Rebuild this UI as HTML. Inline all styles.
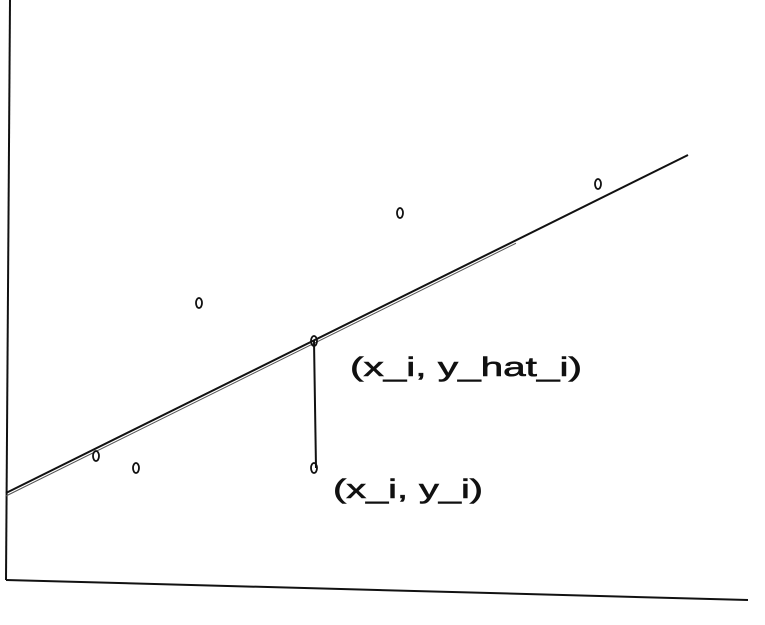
<!DOCTYPE html>
<html><head><meta charset="utf-8"><style>
html,body{margin:0;padding:0;background:#fff;}
svg{display:block;}
text{font-family:"Liberation Sans",sans-serif;font-size:27px;fill:#111;stroke:#111;stroke-width:0.6;}
</style></head><body>
<svg id="chart" width="765" height="625" viewBox="0 0 765 625" xmlns="http://www.w3.org/2000/svg">
<line x1="10" y1="0" x2="6" y2="580" stroke="#111" stroke-width="2"/>
<line x1="6" y1="580" x2="748" y2="600" stroke="#111" stroke-width="2"/>
<g id="marks"></g>
<text x="350" y="376" textLength="232" lengthAdjust="spacingAndGlyphs">(x_i, y_hat_i)</text>
<text x="333" y="498" textLength="150" lengthAdjust="spacingAndGlyphs">(x_i, y_i)</text>
</svg>
<script>
const pointX = [90, 130, 193, 308, 308, 394, 592];
const pointY = [124, 112, 277, 239, 112, 367, 396];
const lineX = [0, 682];
const lineY = [87, 425];
const residX = [308, 308];
const residY = [239, 112];
function sx(v){return 6 + v;}
function sy(v){return 580 - v;}
const ns = "http://www.w3.org/2000/svg";
const g = document.getElementById('marks');
const l = document.createElementNS(ns,'line');


l.setAttribute('x1', sx(lineX[0])); l.setAttribute('y1', sy(lineY[0]));
l.setAttribute('x2', sx(lineX[1])); l.setAttribute('y2', sy(lineY[1]));
l.setAttribute('stroke', '#111'); l.setAttribute('stroke-width', '2');
g.appendChild(l);
const l2 = document.createElementNS(ns,'line');


l2.setAttribute('x1', sx(lineX[0])); l2.setAttribute('y1', sy(lineY[0])+3);
l2.setAttribute('x2', sx(lineX[1])*0.75); l2.setAttribute('y2', sy(lineY[0])+3 + (sy(lineY[1])-sy(lineY[0]))*(sx(lineX[1])*0.75-sx(lineX[0]))/(sx(lineX[1])-sx(lineX[0])));
l2.setAttribute('stroke', '#555'); l2.setAttribute('stroke-width', '1');
g.appendChild(l2);
const r = document.createElementNS(ns,'line');


r.setAttribute('x1', sx(residX[0])); r.setAttribute('y1', sy(residY[0]));
r.setAttribute('x2', sx(residX[1])+2); r.setAttribute('y2', sy(residY[1]));
r.setAttribute('stroke', '#111'); r.setAttribute('stroke-width', '2');
g.appendChild(r);
for (let i=0;i<pointX.length;i++){
  const c = document.createElementNS(ns,'ellipse');
  
  
  c.setAttribute('cx', sx(pointX[i])); c.setAttribute('cy', sy(pointY[i]));
  c.setAttribute('rx', 3); c.setAttribute('ry', 5);
  c.setAttribute('fill', 'none'); c.setAttribute('stroke', '#111'); c.setAttribute('stroke-width', '1.8');
  g.appendChild(c);
}
</script>
</body></html>
